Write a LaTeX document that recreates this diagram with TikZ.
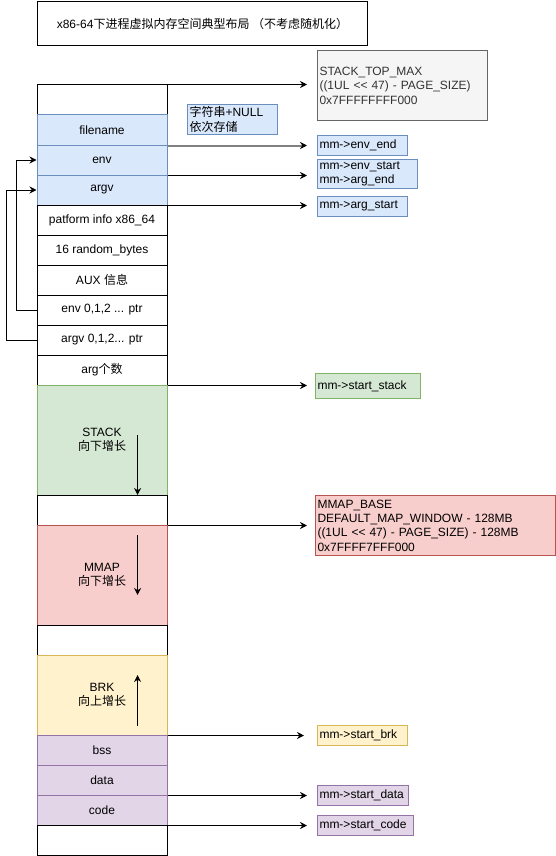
\documentclass[tikz,border=0pt]{standalone}
\usepackage{fontspec}
\setmainfont{Liberation Sans}
\newfontfamily\cjk{Noto Sans CJK SC}
\usetikzlibrary{arrows.meta,calc}
\definecolor{bfill}{HTML}{DAE8FC}\definecolor{bline}{HTML}{6C8EBF}
\definecolor{gfill}{HTML}{D5E8D4}\definecolor{gline}{HTML}{82B366}
\definecolor{rfill}{HTML}{F8CECC}\definecolor{rline}{HTML}{B85450}
\definecolor{yfill}{HTML}{FFF2CC}\definecolor{yline}{HTML}{D6B656}
\definecolor{pfill}{HTML}{E1D5E7}\definecolor{pline}{HTML}{9673A6}
\definecolor{sfill}{HTML}{F5F5F5}\definecolor{sline}{HTML}{666666}
\definecolor{stext}{HTML}{333333}
\definecolor{garrow}{HTML}{808080}
\begin{document}
\begin{tikzpicture}[x=1pt,y=-1pt,line width=1pt,
  every node/.style={font=\fontsize{12pt}{14.4pt}\selectfont},
  seg/.style={draw=black,fill=white,rectangle,minimum width=130pt,minimum height=30pt,inner sep=0pt,align=center},
  blueseg/.style={seg,draw=bline,fill=bfill},
  greenseg/.style={seg,draw=gline,fill=gfill},
  redseg/.style={seg,draw=rline,fill=rfill},
  yelseg/.style={seg,draw=yline,fill=yfill},
  purseg/.style={seg,draw=pline,fill=pfill},
  lbl/.style={draw,rectangle,anchor=north west,inner xsep=2pt,inner ysep=0pt,align=left},
  conn/.style={-{Stealth[length=7pt,width=7pt]},line width=1pt},
]
\useasboundingbox (0,0) rectangle (556,856);

\node[draw,rectangle,anchor=north west,minimum width=330pt,minimum height=44pt,inner sep=0pt] (title) at (37,1)
  {x86-64{\cjk 下进程虚拟内存空间典型布局 （不考虑随机化）}};

% column
\node[seg] (top0) at (102,100) {};
\node[blueseg] (fn) at (102,130) {filename};
\node[blueseg] (env) at (102,160) {env};
\node[blueseg] (argv) at (102,190) {argv};
\node[seg] (plat) at (102,220) {patform info x86\_64};
\node[seg] (rnd) at (102,250) {16 random\_bytes};
\node[seg] (aux) at (102,280) {AUX {\cjk 信息}};
\node[seg] (envp) at (102,310) {env 0,1,2 ... ptr};
\node[seg] (argvp) at (102,340) {argv 0,1,2... ptr};
\node[seg] (argc) at (102,370) {arg{\cjk 个数}};
\node[greenseg,minimum height=110pt] (stack) at (102,440) {STACK\\{\cjk 向下增长}};
\node[seg] (gap1) at (102,510) {};
\node[redseg,minimum height=100pt] (mmap) at (102,575) {MMAP\\{\cjk 向下增长}};
\node[seg] (gap2) at (102,640) {};
\node[yelseg,minimum height=80pt] (brk) at (102,695) {BRK\\{\cjk 向上增长}};
\node[purseg] (bss) at (102,750) {bss};
\node[purseg] (data) at (102,780) {data};
\node[purseg] (code) at (102,810) {code};
\node[seg] (bot) at (102,840) {};

% label boxes
\node[lbl,draw=sline,fill=sfill,text=stext,text width=166pt,minimum height=70pt] (stm) at (317,50)
  {STACK\_TOP\_MAX\\((1UL {<}{<} 47) - PAGE\_SIZE)\\0x7FFFFFFFF000};
\node[lbl,draw=bline,fill=bfill,text width=86pt,minimum height=30pt] (strnull) at (187,104)
  {{\cjk 字符串}+NULL\\{\cjk 依次存储}};
\node[lbl,draw=bline,fill=bfill,text width=86pt,minimum height=20pt] (envend) at (317,134.5) {mm->env\_end};
\node[lbl,draw=bline,fill=bfill,text width=96pt,minimum height=29.5pt] (envstart) at (317,158.5) {mm->env\_start\\mm->arg\_end};
\node[lbl,draw=bline,fill=bfill,text width=86pt,minimum height=20pt] (argstart) at (317,195.5) {mm->arg\_start};
\node[lbl,draw=gline,fill=gfill,text width=101pt,minimum height=25pt] (sstack) at (315,373) {mm->start\_stack};
\node[lbl,draw=rline,fill=rfill,text width=236pt,minimum height=60pt] (mbase) at (315,495)
  {MMAP\_BASE\\DEFAULT\_MAP\_WINDOW - 128MB\\((1UL {<}{<} 47) - PAGE\_SIZE) - 128MB\\0x7FFFF7FFF000};
\node[lbl,draw=yline,fill=yfill,text width=86pt,minimum height=20pt] (sbrk) at (317,725) {mm->start\_brk};
\node[lbl,draw=pline,fill=pfill,text width=87pt,minimum height=20pt] (sdata) at (317,785) {mm->start\_data};
\node[lbl,draw=pline,fill=pfill,text width=92pt,minimum height=20pt] (scode) at (317,815) {mm->start\_code};

% arrows to labels
\draw[conn,shorten >=10pt] (top0.north east) -- (top0.north east -| stm.west);
\draw[-{Stealth[length=7pt,width=7pt,black]},draw=garrow,line width=2pt,shorten >=10pt] (fn.south east) -- (fn.south east -| envend.west);
\draw[conn,shorten >=10pt] (env.south east) -- (env.south east -| envstart.west);
\draw[conn,shorten >=10pt] (argv.south east) -- (argv.south east -| argstart.west);
\draw[conn,shorten >=8pt] (argc.south east) -- (argc.south east -| sstack.west);
\draw[conn,shorten >=8pt] (gap1.south east) -- (gap1.south east -| mbase.west);
\draw[conn,shorten >=13pt] (brk.south east) -- (brk.south east -| sbrk.west);
\draw[conn,shorten >=10pt] (data.south east) -- (data.south east -| sdata.west);
\draw[conn,shorten >=10pt] (code.south east) -- (code.south east -| scode.west);

% growth arrows
\coordinate (sa1) at (137.6,435); \coordinate (sa2) at (137.6,495);
\coordinate (ma1) at (137.6,535); \coordinate (ma2) at (137.6,595);
\coordinate (ba1) at (137.6,726); \coordinate (ba2) at (137.6,675);
\draw[conn] (sa1) -- (sa2);
\draw[conn] (ma1) -- (ma2);
\draw[conn] (ba1) -- (ba2);

% pointer connectors
\draw[conn] (envp.west) -- ++(-20,0) |- (env.west);
\draw[conn] (argvp.west) -- ++(-30,0) |- (argv.west);
\end{tikzpicture}
\end{document}
